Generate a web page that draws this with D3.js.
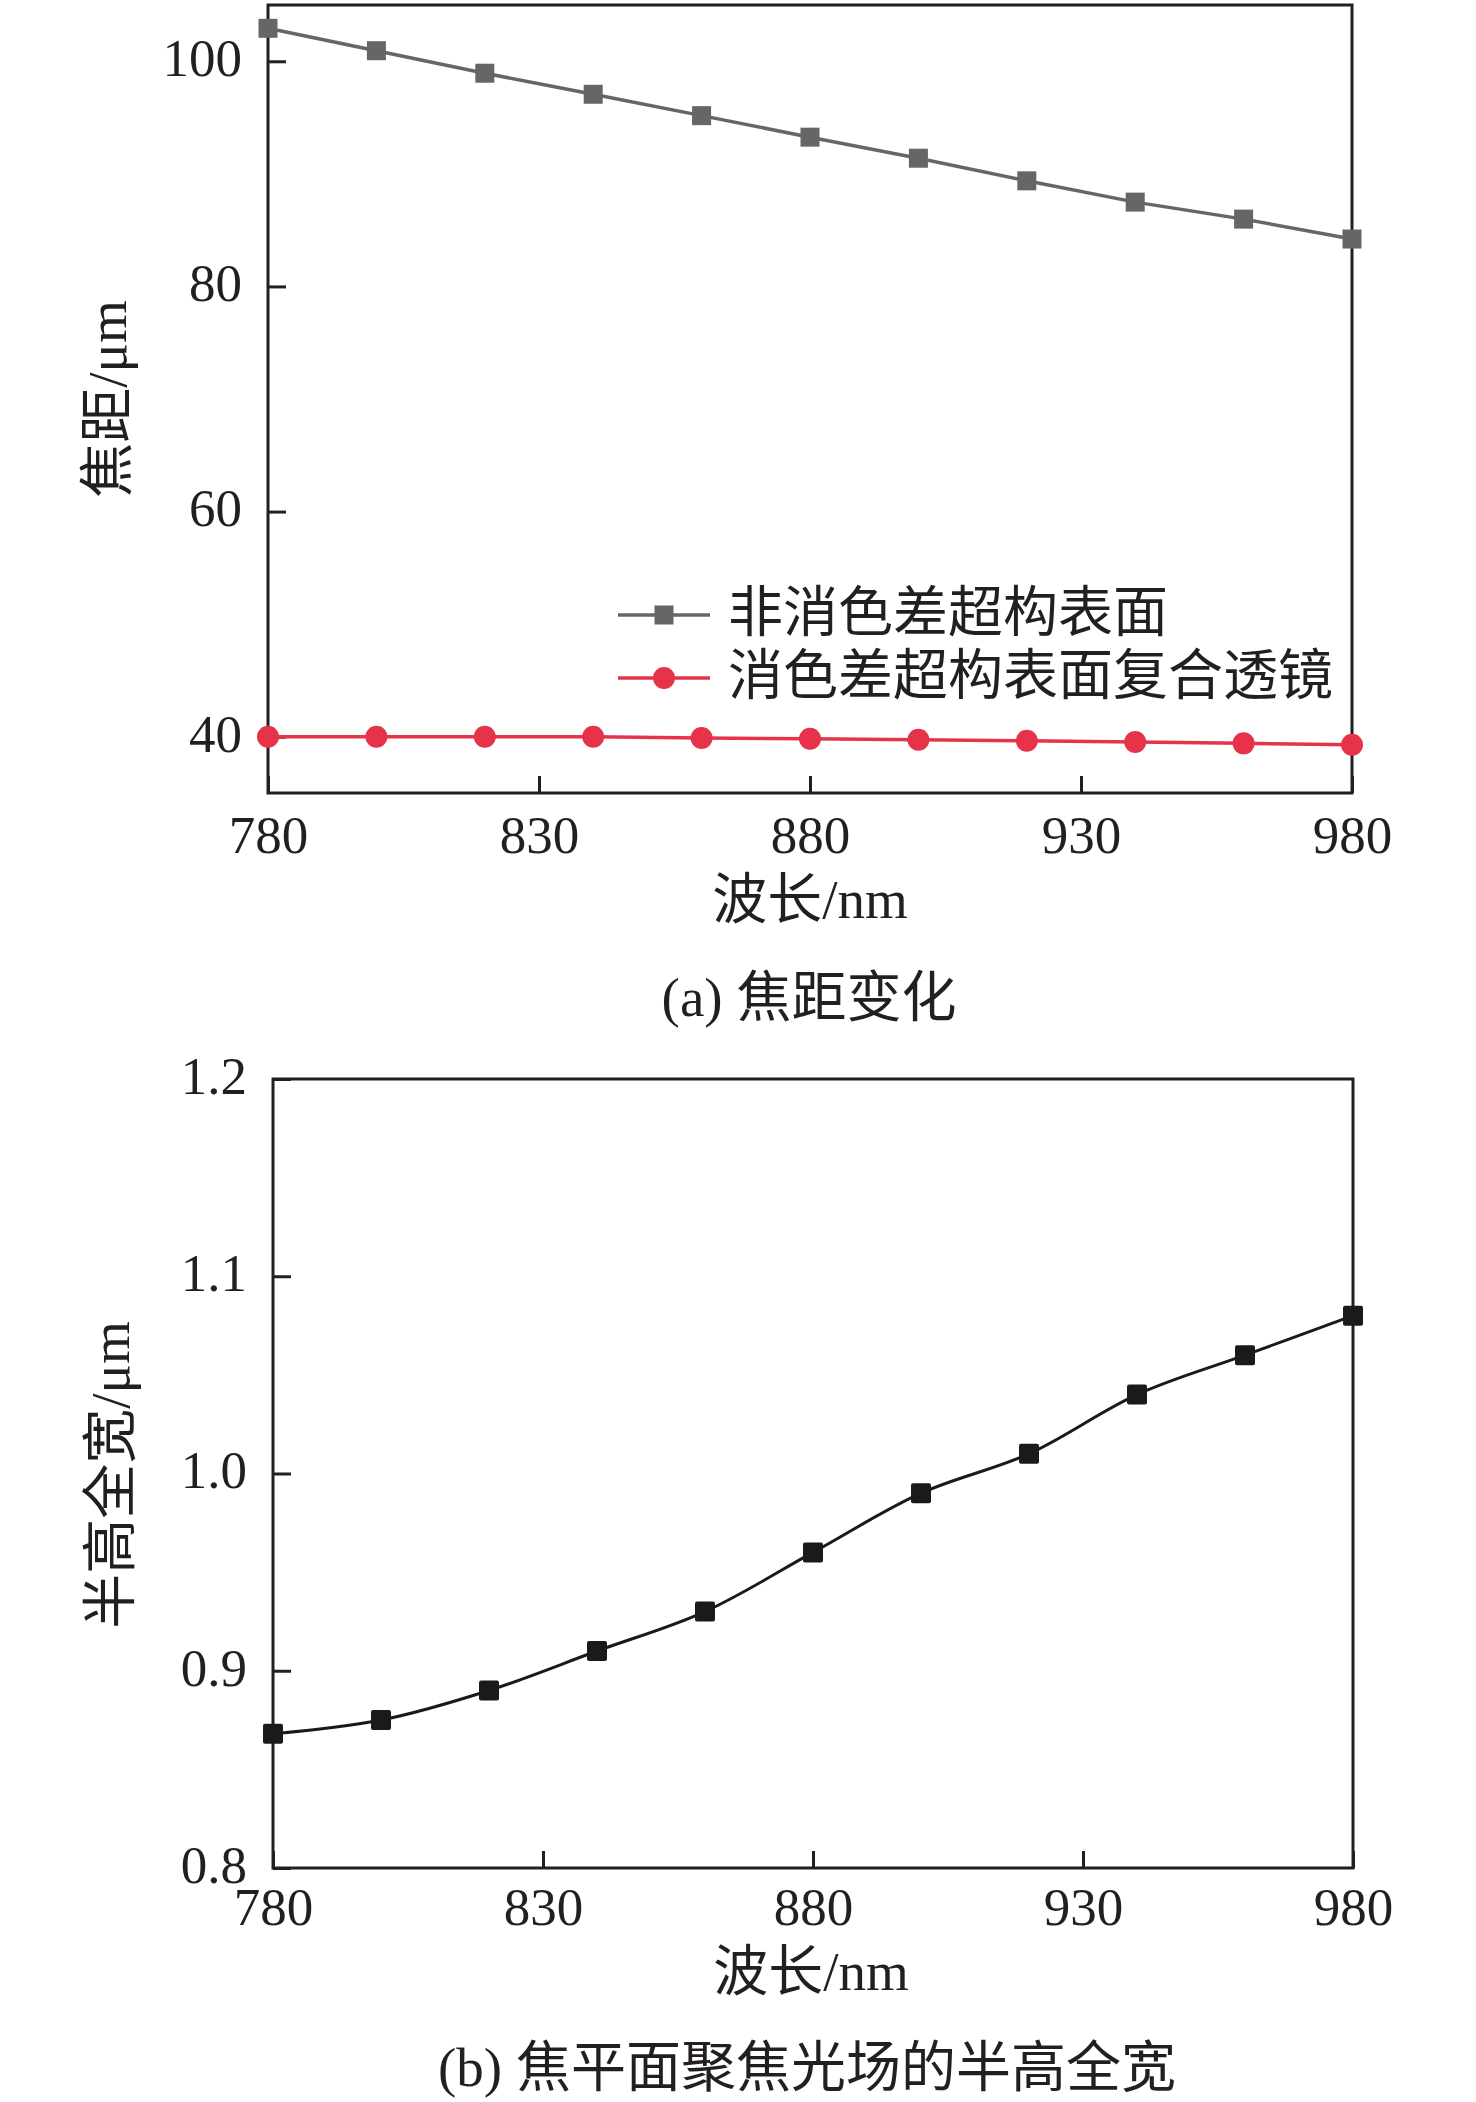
<!DOCTYPE html>
<html>
<head>
<meta charset="utf-8">
<script src="https://cdn.jsdelivr.net/npm/d3@7"></script>
<style>
  body { margin: 0; background: #fff; }
  text { font-family: "Liberation Serif", "Noto Sans CJK SC", serif; fill: #231f20; }
</style>
</head>
<body>
<div id="chart"></div>
<script>
// Data
const wavelengths = [780, 800, 820, 840, 860, 880, 900, 920, 940, 960, 980];
const focalPlain = [102.93, 100.94, 98.94, 97.07, 95.17, 93.26, 91.39, 89.38, 87.49, 85.98, 84.21];
const focalAchromatic = [40.0, 40.0, 40.0, 40.0, 39.88, 39.82, 39.73, 39.64, 39.53, 39.41, 39.29];
const fwhm = [0.868, 0.875, 0.89, 0.91, 0.93, 0.96, 0.99, 1.01, 1.04, 1.06, 1.08];

const xTicks = [780, 830, 880, 930, 980];
const yTicksA = [40, 60, 80, 100];
const yTicksB = [0.8, 0.9, 1.0, 1.1, 1.2];
const legendLabels = ["非消色差超构表面", "消色差超构表面复合透镜"];

const width = 1476;
const height = 2102;
const ink = "#231f20";
const grey = "#666666";
const red = "#e6334a";

const svg = d3.select("#chart").append("svg")
    .attr("width", width)
    .attr("height", height);

// Draw one framed panel with inward ticks, returns scales and group
function panel(box, yDomain, yTicks, yFmt, xPad) {
    const x = d3.scaleLinear().domain([780, 980]).range([box.left, box.right]);
    const y = d3.scaleLinear().domain(yDomain).range([box.bottom, box.top]);
    const g = svg.append("g");

    g.append("rect")
        .attr("x", box.left).attr("y", box.top)
        .attr("width", box.right - box.left)
        .attr("height", box.bottom - box.top)
        .attr("fill", "none")
        .attr("stroke", ink)
        .attr("stroke-width", 3);

    const ax = g.append("g")
        .attr("transform", `translate(0,${box.bottom})`)
        .call(d3.axisBottom(x).tickValues(xTicks).tickSize(-17).tickPadding(xPad).tickFormat(d3.format("d")));
    const ay = g.append("g")
        .attr("transform", `translate(${box.left},0)`)
        .call(d3.axisLeft(y).tickValues(yTicks).tickSize(-18).tickPadding(26).tickFormat(yFmt));

    [ax, ay].forEach(a => {
        a.select(".domain").remove();
        a.selectAll(".tick line").attr("stroke", ink).attr("stroke-width", 3);
        a.selectAll(".tick text")
            .attr("fill", ink)
            .style("font-size", "53px");
    });
    ay.selectAll(".tick text").attr("dy", "0.27em");

    return { x, y, g };
}

// Panel (a)
const boxA = { left: 268, right: 1352, top: 5, bottom: 793 };
const pa = panel(boxA, [35, 105], yTicksA, d3.format("d"), 22);

const lineA = d3.line().x((d, i) => pa.x(wavelengths[i])).y(d => pa.y(d));

pa.g.append("path")
    .datum(focalPlain)
    .attr("d", lineA)
    .attr("fill", "none")
    .attr("stroke", grey)
    .attr("stroke-width", 3.5);

pa.g.selectAll(".sq")
    .data(focalPlain)
    .enter().append("rect")
    .attr("x", (d, i) => pa.x(wavelengths[i]) - 9.5)
    .attr("y", d => pa.y(d) - 9.5)
    .attr("width", 19).attr("height", 19)
    .attr("fill", grey);

pa.g.append("path")
    .datum(focalAchromatic)
    .attr("d", lineA)
    .attr("fill", "none")
    .attr("stroke", red)
    .attr("stroke-width", 3.5);

pa.g.selectAll(".dot")
    .data(focalAchromatic)
    .enter().append("circle")
    .attr("cx", (d, i) => pa.x(wavelengths[i]))
    .attr("cy", d => pa.y(d))
    .attr("r", 11)
    .attr("fill", red);

// Legend
const legend = pa.g.append("g");
const legendRows = [
    { y: 615, color: grey, shape: "square", label: legendLabels[0] },
    { y: 678, color: red, shape: "circle", label: legendLabels[1] }
];
legendRows.forEach(r => {
    legend.append("line")
        .attr("x1", 618).attr("x2", 710)
        .attr("y1", r.y).attr("y2", r.y)
        .attr("stroke", r.color)
        .attr("stroke-width", 3.5);
    if (r.shape === "square") {
        legend.append("rect")
            .attr("x", 664 - 9.5).attr("y", r.y - 9.5)
            .attr("width", 19).attr("height", 19)
            .attr("fill", r.color);
    } else {
        legend.append("circle")
            .attr("cx", 664).attr("cy", r.y)
            .attr("r", 11)
            .attr("fill", r.color);
    }
    legend.append("text")
        .attr("x", 728)
        .attr("y", r.y + 16)
        .style("font-size", "55px")
        .text(r.label);
});

// Axis titles and caption (a)
svg.append("text")
    .attr("x", 810).attr("y", 918)
    .attr("text-anchor", "middle")
    .style("font-size", "55px")
    .text("波长/nm");

svg.append("text")
    .attr("transform", "translate(107,399) rotate(-90)")
    .attr("text-anchor", "middle")
    .attr("dominant-baseline", "central")
    .style("font-size", "55px")
    .text("焦距/μm");

svg.append("text")
    .attr("x", 809).attr("y", 1016)
    .attr("text-anchor", "middle")
    .style("font-size", "55px")
    .text("(a) 焦距变化");

// Panel (b)
const boxB = { left: 273, right: 1353, top: 1079, bottom: 1868 };
const pb = panel(boxB, [0.8, 1.2], yTicksB, d3.format(".1f"), 19);

pb.g.append("path")
    .datum(fwhm)
    .attr("d", d3.line()
        .x((d, i) => pb.x(wavelengths[i]))
        .y(d => pb.y(d))
        .curve(d3.curveCatmullRom.alpha(0.5)))
    .attr("fill", "none")
    .attr("stroke", "#1a1a1a")
    .attr("stroke-width", 3);

pb.g.selectAll(".sq")
    .data(fwhm)
    .enter().append("rect")
    .attr("x", (d, i) => pb.x(wavelengths[i]) - 10)
    .attr("y", d => pb.y(d) - 10)
    .attr("width", 20).attr("height", 20)
    .attr("rx", 2)
    .attr("fill", "#1a1a1a");

svg.append("text")
    .attr("x", 811).attr("y", 1990)
    .attr("text-anchor", "middle")
    .style("font-size", "55px")
    .text("波长/nm");

svg.append("text")
    .attr("transform", "translate(110,1475) rotate(-90)")
    .attr("text-anchor", "middle")
    .attr("dominant-baseline", "central")
    .style("font-size", "55px")
    .text("半高全宽/μm");

svg.append("text")
    .attr("x", 807).attr("y", 2086)
    .attr("text-anchor", "middle")
    .style("font-size", "55px")
    .text("(b) 焦平面聚焦光场的半高全宽");
</script>
</body>
</html>
